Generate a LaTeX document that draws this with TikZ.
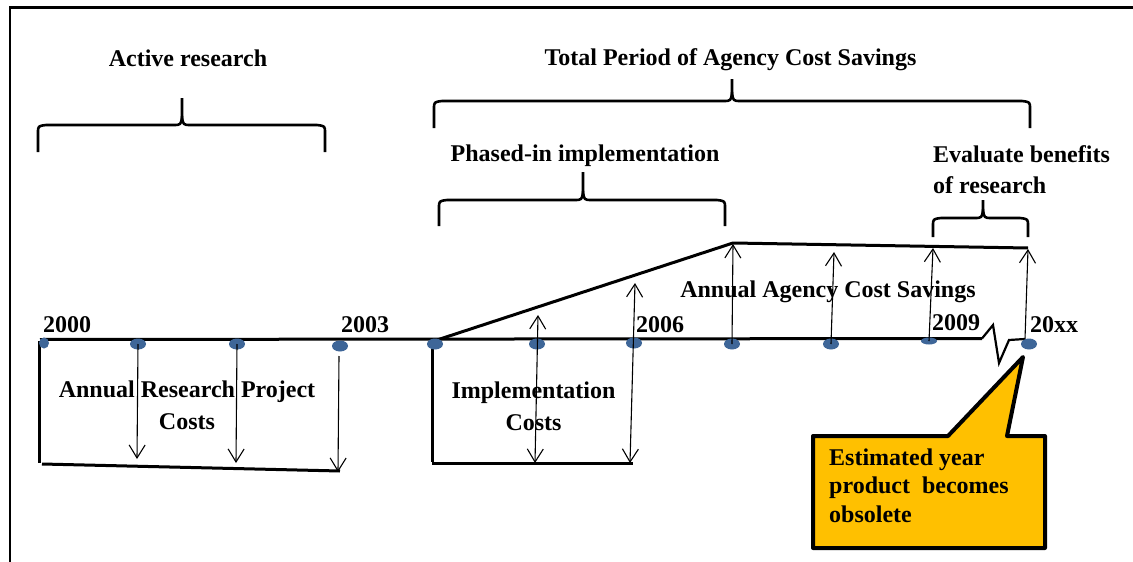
\documentclass[tikz,border=0pt]{standalone}
\usepackage{fontspec}
\setmainfont{Liberation Serif}
\usetikzlibrary{arrows.meta,shapes.geometric}

\definecolor{dotblue}{RGB}{62,102,152}
\definecolor{calloutgold}{RGB}{255,192,0}

\tikzset{
  lbl/.style={font=\bfseries\fontsize{24}{32}\selectfont, inner sep=0pt},
  yeardot/.style={ellipse, fill=dotblue, minimum width=16pt, minimum height=11pt, inner sep=0pt},
  axisline/.style={line width=3pt},
  heavy/.style={line width=3pt},
  breakline/.style={line width=2.2pt, line join=miter},
  bracepen/.style={line width=2.6pt, line join=round},
  barb/.tip={Straight Barb[length=13pt,width=16pt,line width=1.1pt]},
  arr/.style={line width=1.1pt, -barb},
  arrboth/.style={line width=1.1pt, barb-barb},
  callout/.style={line width=4pt, fill=calloutgold, line join=round},
}

% horizontal curly brace: left x, right x, tip x, end y, bar y, tip y
\newcommand\timebrace[6]{%
  \draw[bracepen] (#1,#4) -- (#1,#5+8) .. controls (#1,#5+1) .. (#1+8,#5)
    -- (#3-9,#5) .. controls (#3-1,#5) .. (#3,#5-9) -- (#3,#6);
  \draw[bracepen] (#2,#4) -- (#2,#5+8) .. controls (#2,#5+1) .. (#2-8,#5)
    -- (#3+9,#5) .. controls (#3+1,#5) .. (#3,#5-9);
}

\begin{document}
\begin{tikzpicture}[x=1pt,y=-1pt]
\useasboundingbox (0,0) rectangle (1133,562);

% frame (top and left edges)
\draw[line width=2.4pt] (1133,7.5) -- (10,7.5) -- (10,562);

% headings and braces (multi-line nodes are placed by their last baseline)
\node[lbl, anchor=base] (active) at (188,66) {Active research};
\timebrace{38}{325}{182}{152}{125}{98}

\node[lbl, anchor=base] (total) at (730.5,65) {Total Period of Agency Cost Savings};
\timebrace{434}{1030}{732}{128}{101}{79}

\node[lbl, anchor=base] (phased) at (585,161) {Phased-in implementation};
\timebrace{439}{725}{583}{226}{200}{172}

\node[lbl, anchor=base west, align=left, font=\bfseries\fontsize{24}{31}\selectfont] (evalben) at (933,193) {Evaluate benefits\\of research};
\timebrace{933}{1028}{983}{237}{218}{200}

% time axis with break before the final year
\coordinate (axL) at (40,339.5);
\coordinate (brkA) at (982,338.5);
\coordinate (brkB) at (993,325);
\coordinate (brkC) at (999,363);
\coordinate (brkD) at (1009,340);
\coordinate (brkE) at (1025,339);
\draw[axisline] (axL) -- (brkA);
\draw[breakline] (brkA) -- (brkB) -- (brkC) -- (brkD) -- (brkE);

% savings envelope
\coordinate (sv0) at (437,340);
\coordinate (sv1) at (733,243);
\coordinate (sv2) at (1028,248);
\draw[heavy, line join=round] (sv0) -- (sv1) -- (sv2);

% cost boxes
\coordinate (rb0) at (39,341);
\coordinate (rb1) at (39,463);
\coordinate (rb2) at (42,464);
\coordinate (rb3) at (340,471);
\draw[heavy] (rb0) -- (rb1);
\draw[heavy] (rb2) -- (rb3);
\coordinate (ib0) at (432,343);
\coordinate (ib1) at (432,462);
\coordinate (ib2) at (432,463);
\coordinate (ib3) at (633,463);
\draw[heavy] (ib0) -- (ib1);
\draw[heavy] (ib2) -- (ib3);

% year dots
\node[yeardot, minimum width=10pt] (d0) at (44,343) {};
\node[yeardot] (d1) at (138,344) {};
\node[yeardot] (d2) at (237,344) {};
\node[yeardot] (d3) at (340,346) {};
\node[yeardot] (d4) at (435,344) {};
\node[yeardot] (d5) at (537,344) {};
\node[yeardot] (d6) at (634,343) {};
\node[yeardot] (d7) at (732,344) {};
\node[yeardot] (d8) at (831,344) {};
\node[yeardot, minimum height=7pt] (d9) at (929,341) {};
\node[yeardot] (d10) at (1029,344) {};

% year labels
\node[lbl, anchor=base west] (y2000) at (43,332) {2000};
\node[lbl, anchor=base west] (y2003) at (341,332) {2003};
\node[lbl, anchor=base west] (y2006) at (636,332) {2006};
\node[lbl, anchor=base west] (y2009) at (932,330) {2009};
\node[lbl, anchor=base west] (y20xx) at (1030,332) {20xx};

% region labels
\node[lbl, align=center, anchor=base] (rescost) at (187,429) {Annual Research Project\\Costs};
\node[lbl, align=center, anchor=base] (impcost) at (533.5,430) {Implementation\\Costs};
\node[lbl, anchor=base] (savings) at (828,297) {Annual Agency Cost Savings};

% research cost arrows
\coordinate (a1e) at (137,459);
\coordinate (a2e) at (236,463);
\coordinate (a3s) at (339,356);
\coordinate (a3e) at (338,472);
\draw[arr] (d1.center) -- (a1e);
\draw[arr] (d2.center) -- (a2e);
\draw[arr] (a3s) -- (a3e);

% implementation cost / savings arrows
\coordinate (a4s) at (535,463);
\coordinate (a4e) at (538,315);
\coordinate (a5s) at (630,463);
\coordinate (a5e) at (635,283);
\draw[arrboth] (a4s) -- (a4e);
\draw[arrboth] (a5s) -- (a5e);

% savings arrows
\coordinate (a6e) at (733,244);
\coordinate (a7e) at (834,252);
\coordinate (a8e) at (933,248);
\coordinate (a9e) at (1028,249);
\draw[arr] (d7.center) -- (a6e);
\draw[arr] (d8.center) -- (a7e);
\draw[arr] (d9.center) -- (a8e);
\draw[arr] (brkE) -- (a9e);

% obsolescence callout
\draw[callout] (813,436) -- (948,436) -- (1023,357) -- (1007,436) -- (1045,436)
  -- (1045,548) -- (813,548) -- cycle;
\node[lbl, align=left, anchor=base west, font=\bfseries\fontsize{24}{28.5}\selectfont] (obsolete) at (829,522)
  {Estimated year\\product\ \ becomes\\obsolete};
\end{tikzpicture}
\end{document}
